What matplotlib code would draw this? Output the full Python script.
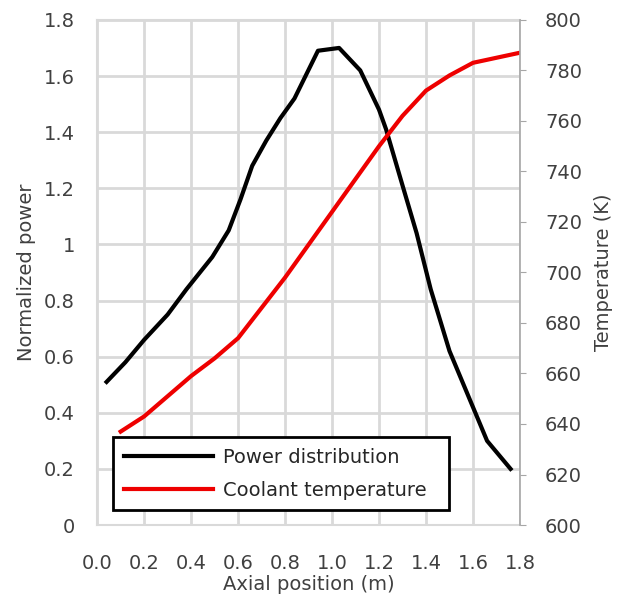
import numpy as np
import matplotlib.pyplot as plt

# axial power profile (normalized)
pos_power = [0.04, 0.12, 0.2, 0.3, 0.38, 0.49, 0.56, 0.61, 0.66, 0.72, 0.78, 0.84,
             0.94, 1.03, 1.12, 1.2, 1.23, 1.3, 1.36, 1.42, 1.5, 1.57, 1.66, 1.76]
power = [0.51, 0.58, 0.66, 0.75, 0.84, 0.955, 1.05, 1.16, 1.28, 1.37, 1.45, 1.52,
         1.69, 1.70, 1.62, 1.48, 1.41, 1.21, 1.04, 0.84, 0.62, 0.48, 0.30, 0.20]

# coolant temperature along the channel (K)
pos_temp = [0.1, 0.2, 0.3, 0.4, 0.5, 0.6, 0.7, 0.8, 0.9, 1.0, 1.1, 1.2, 1.3, 1.4,
            1.5, 1.6, 1.7, 1.8]
temp = [637, 643, 651, 659, 666, 674, 686, 698, 711, 724, 737, 750, 762, 772,
        778, 783, 785, 787]

plt.rcParams['font.family'] = ['DejaVu Sans']
plt.rcParams['font.size'] = 14

fig = plt.figure(figsize=(6.19, 5.95), dpi=100)
ax = fig.add_axes([0.157, 0.1176, 0.683, 0.849])
ax2 = ax.twinx()

grid_col = '#d9d9d9'
text_col = '#404040'
ax.set_xlim(0, 1.8)
ax.set_ylim(0, 1.8)
xt = np.arange(0, 1.81, 0.2)
ax.set_xticks(xt)
ax.set_xticklabels([f'{v:.1f}' for v in xt])
yt = np.arange(0, 1.81, 0.2)
ax.set_yticks(yt)
ax.set_yticklabels(['0' if v < 1e-9 else ('1' if abs(v - 1) < 1e-9 else f'{v:.1f}') for v in yt])
ax.grid(True, color=grid_col, linewidth=2)
ax.set_axisbelow(True)
ax.tick_params(axis='y', length=0, pad=16, labelcolor=text_col)
ax.tick_params(axis='x', length=0, pad=21, labelcolor=text_col)
for s in ['left', 'bottom', 'top']:
    ax.spines[s].set_color(grid_col)
    ax.spines[s].set_linewidth(1.5)
ax.spines['right'].set_visible(False)

ax2.set_ylim(600, 800)
ax2.set_yticks(np.arange(600, 801, 20))
ax2.tick_params(direction='out', length=4, pad=14, color='#a6a6a6', labelcolor=text_col)
for s in ['left', 'bottom', 'top']:
    ax2.spines[s].set_visible(False)
ax2.spines['right'].set_color('#a6a6a6')
ax2.spines['right'].set_linewidth(1.2)

l1, = ax.plot(pos_power, power, color='black', linewidth=3, label='Power distribution')
l2, = ax2.plot(pos_temp, temp, color='#ee0000', linewidth=3, label='Coolant temperature')

ax.set_xlabel('Axial position (m)', color=text_col, labelpad=1)
ax.set_ylabel('Normalized power', color=text_col, labelpad=6)
ax2.set_ylabel('Temperature (K)', color=text_col, labelpad=9)

leg = ax2.legend([l1, l2], ['Power distribution', 'Coolant temperature'],
                 loc='lower left', bbox_to_anchor=(0.014, 0.01, 0.84, 0.149),
                 mode='expand', fancybox=False, framealpha=1, edgecolor='black',
                 handlelength=4.6, handletextpad=0.5, borderpad=0.55,
                 labelspacing=0.7, fontsize=14)
leg.get_frame().set_linewidth(2)
for t in leg.get_texts():
    t.set_color('#262626')

fig.savefig('out.png', dpi=100)
